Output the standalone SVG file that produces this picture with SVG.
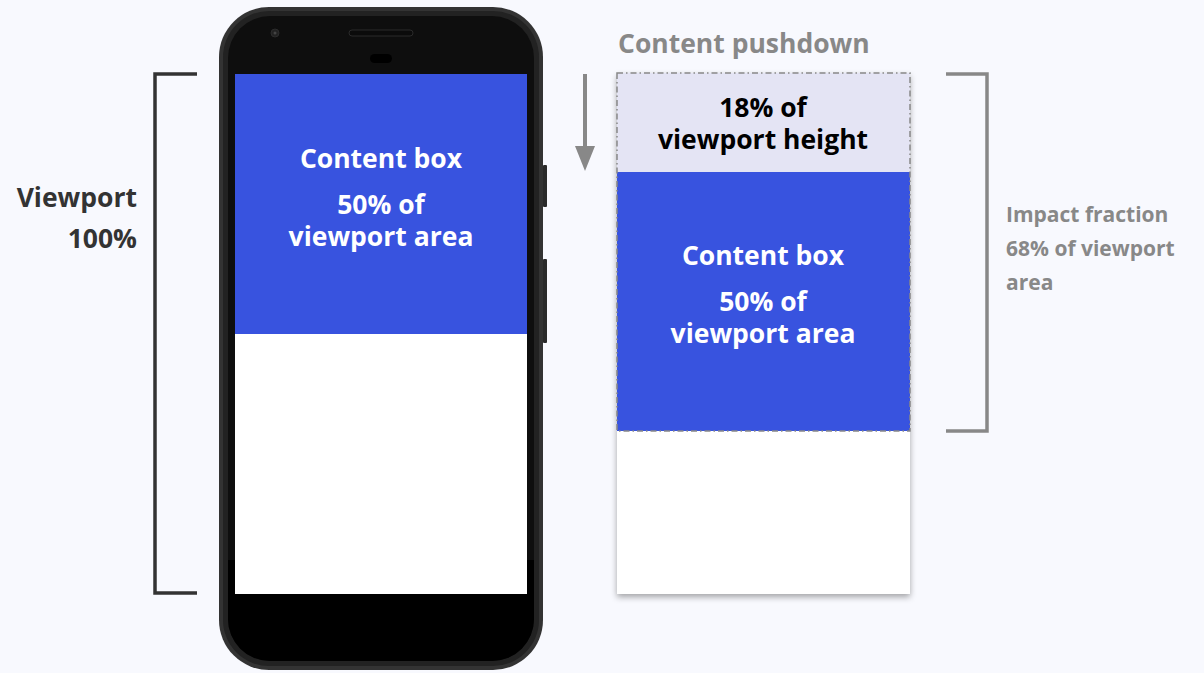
<svg xmlns="http://www.w3.org/2000/svg" width="1204" height="673" viewBox="0 0 1204 673">
<defs>
<style>
.t{font-family:"Open Sans","Noto Sans","Liberation Sans",sans-serif;font-weight:bold}
.w{fill:#fff;font-size:26.5px;text-anchor:middle}
.g{fill:#888}
.br{fill:none;stroke-width:3.5}
</style>
<filter id="sh" x="-10%" y="-10%" width="120%" height="120%"><feDropShadow dx="0" dy="3" stdDeviation="3" flood-color="#000" flood-opacity="0.35"/></filter>
<marker id="ah" markerWidth="26" markerHeight="20" refX="2" refY="10" orient="auto" markerUnits="userSpaceOnUse" viewBox="0 0 26 20"><path d="M0,0 L25,10 L0,20 Z" fill="#888"/></marker>
</defs>
<rect width="1204" height="673" fill="#f8f9fe"/>
<g id="phone">
<rect x="543" y="165" width="4" height="42" rx="1" fill="#2a2a2a"/>
<rect x="543" y="259" width="4" height="84" rx="1" fill="#2a2a2a"/>
<rect x="464" y="7" width="6" height="7" fill="#2a2a2a"/>
<rect x="219" y="7" width="324" height="663" rx="50" fill="#333"/>
<rect x="223" y="11" width="316" height="655" rx="46" fill="#222"/>
<rect x="228" y="16" width="306" height="645" rx="42" fill="#0e0e0e"/>
<rect x="228" y="560" width="306" height="101" rx="42" fill="#000"/>
<rect x="228" y="560" width="306" height="50" fill="#000"/>
<circle cx="275" cy="33" r="4" fill="#222" stroke="#2c2c2c"/>
<circle cx="275" cy="33" r="1.5" fill="#444"/>
<rect x="349" y="30" width="64" height="6" rx="3" fill="#0b0b0b" stroke="#2a2a2a" stroke-width="1"/>
<rect x="370" y="54" width="22" height="9" rx="4.5" fill="#000"/>
<rect x="235" y="74" width="292" height="520" fill="#fff"/>
<rect x="235" y="74" width="292" height="260" fill="#3853df"/>
<text class="t w" x="381" y="168">Content box</text>
<text class="t w" x="381" y="214">50% of</text>
<text class="t w" x="381" y="246">viewport area</text>
</g>
<g id="viewport-label">
<path class="br" d="M197,74 H155 V593 H197" stroke="#333"/>
<text class="t" x="137" y="207" font-size="26.5" fill="#333" text-anchor="end">Viewport</text>
<text class="t" x="137" y="248" font-size="26.5" fill="#333" text-anchor="end">100%</text>
</g>
<g id="shifted">
<rect x="617" y="73" width="293" height="521" fill="#fff" filter="url(#sh)"/>
<rect x="617" y="73" width="293" height="99" fill="#e4e4f4"/>
<rect x="617" y="172" width="293" height="259" fill="#3853df"/>
<rect x="617" y="73" width="293" height="358" fill="none" stroke="#888" stroke-width="1.5" stroke-dasharray="6,3,1.5,3"/>
<text class="t" x="763" y="117" font-size="26.5" fill="#000" text-anchor="middle">18% of</text>
<text class="t" x="763" y="149" font-size="26.5" fill="#000" text-anchor="middle">viewport height</text>
<text class="t w" x="763" y="265">Content box</text>
<text class="t w" x="763" y="311">50% of</text>
<text class="t w" x="763" y="343">viewport area</text>
</g>
<g id="pushdown-label">
<text class="t g" x="618" y="53" font-size="26.5">Content pushdown</text>
</g>
<g id="connectors">
<line x1="585" y1="74" x2="585" y2="148" stroke="#888" stroke-width="4" marker-end="url(#ah)"/>
</g>
<g id="impact-label">
<path class="br" d="M946,74 H987 V431 H946" stroke="#888"/>
<text class="t g" x="1006" y="222" font-size="21">Impact fraction</text>
<text class="t g" x="1006" y="256" font-size="21">68% of viewport</text>
<text class="t g" x="1006" y="290" font-size="21">area</text>
</g>
</svg>
